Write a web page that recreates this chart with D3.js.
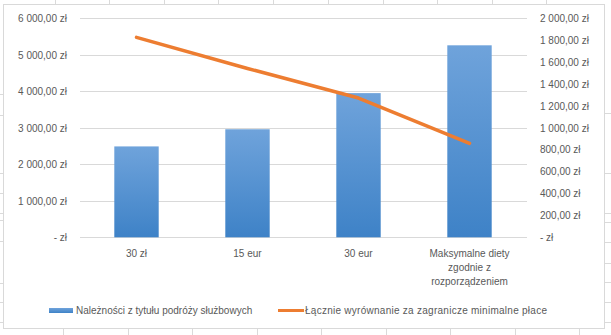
<!DOCTYPE html>
<html><head><meta charset="utf-8">
<script src="https://cdn.jsdelivr.net/npm/d3@7"></script>
<style>body{margin:0;background:#fff}svg{display:block}text{font-family:"Liberation Sans",Arial,sans-serif}</style>
</head><body>
<svg id="c" width="611" height="335"></svg>
<script>
const categories = [["30 zł"], ["15 eur"], ["30 eur"], ["Maksymalne diety", "zgodnie z", "rozporządzeniem"]];
const barValues = [2490, 2960, 3950, 5260];
const lineValues = [1826, 1542, 1272, 858];
const leftTicks = [0, 1000, 2000, 3000, 4000, 5000, 6000];
const rightTicks = [0, 200, 400, 600, 800, 1000, 1200, 1400, 1600, 1800, 2000];
const barName = "Należności z tytułu podróży służbowych";
const lineName = "Łącznie wyrównanie za zagranicze minimalne płace";

const svg = d3.select("#c");
const W = 611, H = 335;
const grid = "#d9d9d9", txt = "#595959";

// spreadsheet background lines
const bg = svg.append("g").attr("stroke", "#dadada").attr("stroke-width", 1);
[55,109,164,218,273,328,383,437,492,546].forEach(x => bg.append("line").attr("x1", x+0.5).attr("x2", x+0.5).attr("y1", 0).attr("y2", 4));
[63,128,192,257,321,386,450,515,579].forEach(x => bg.append("line").attr("x1", x+0.5).attr("x2", x+0.5).attr("y1", 329).attr("y2", 335));
[94,115,173,193,213,220,241,283,302,322].forEach(y => bg.append("line").attr("x1", 0).attr("x2", 3).attr("y1", y+0.5).attr("y2", y+0.5));
[113,173,213,222,242,263,282,302,322].forEach(y => bg.append("line").attr("x1", 605).attr("x2", W).attr("y1", y+0.5).attr("y2", y+0.5));
svg.append("rect").attr("x", 3.5).attr("y", 4.5).attr("width", 601).attr("height", 324).attr("fill", "#fff").attr("stroke", "#d9d9d9");

const x = d3.scaleBand().domain(d3.range(categories.length)).range([81, 525]).paddingInner(0.6).paddingOuter(0.3);
const yL = d3.scaleLinear().domain([0, 6000]).range([237.3, 18.3]);
const yR = d3.scaleLinear().domain([0, 2000]).range([237.3, 18.3]);

const fmt = v => v === 0 ? "-   zł" : d3.format(",.2f")(v).replace(/,/g, " ").replace(".", ",") + " zł";

const gAxisL = svg.append("g").attr("transform", "translate(67,0)")
  .call(d3.axisLeft(yL).tickValues(leftTicks).tickSize(0).tickPadding(0).tickFormat(fmt));
gAxisL.select(".domain").remove();
gAxisL.selectAll("text").attr("fill", txt).attr("font-size", "10px");
leftTicks.forEach(t => svg.append("line").attr("x1", 80).attr("x2", 527).attr("y1", Math.round(yL(t))+0.5).attr("y2", Math.round(yL(t))+0.5).attr("stroke", grid));

const gAxisR = svg.append("g").attr("transform", "translate(540,0)")
  .call(d3.axisRight(yR).tickValues(rightTicks).tickSize(0).tickPadding(0).tickFormat(fmt));
gAxisR.select(".domain").remove();
gAxisR.selectAll("text").attr("fill", txt).attr("font-size", "10px");

const defs = svg.append("defs");
const gr = defs.append("linearGradient").attr("id", "bg").attr("x1", 0).attr("x2", 0).attr("y1", 0).attr("y2", 1);
gr.append("stop").attr("offset", "0%").attr("stop-color", "#6fa3db");
gr.append("stop").attr("offset", "100%").attr("stop-color", "#3e82c7");

svg.append("g").selectAll("rect").data(barValues).join("rect")
  .attr("x", (d, i) => x(i)).attr("width", x.bandwidth())
  .attr("y", d => yL(d)).attr("height", d => yL(0) - yL(d))
  .attr("fill", "url(#bg)");

const gX = svg.append("g").attr("transform", "translate(0,237)")
  .call(d3.axisBottom(x).tickSize(0).tickFormat(() => ""));
gX.select(".domain").remove();
categories.forEach((lines, i) => {
  const t = svg.append("text").attr("text-anchor", "middle").attr("fill", txt).attr("font-size", "10px")
    .attr("x", x(i) + x.bandwidth() / 2).attr("y", 257);
  lines.forEach((l, j) => t.append("tspan").attr("x", x(i) + x.bandwidth() / 2).attr("dy", j ? 14 : 0).text(l));
});

const line = d3.line().x((d, i) => x(i) + x.bandwidth() / 2).y(d => yR(d));
svg.append("path").datum(lineValues).attr("d", line).attr("fill", "none")
  .attr("stroke", "#ed7d31").attr("stroke-width", 3.5).attr("stroke-linecap", "round").attr("stroke-linejoin", "round");

svg.append("rect").attr("x", 49).attr("y", 308).attr("width", 24).attr("height", 5).attr("fill", "url(#bg)");
svg.append("text").attr("x", 76).attr("y", 314).attr("fill", txt).attr("font-size", "10px").text(barName);
svg.append("line").attr("x1", 278).attr("x2", 304).attr("y1", 310.5).attr("y2", 310.5).attr("stroke", "#ed7d31").attr("stroke-width", 3);
svg.append("text").attr("x", 305).attr("y", 314).attr("fill", txt).attr("font-size", "10px")
  .attr("textLength", 242).attr("lengthAdjust", "spacing").text(lineName);
</script>
</body></html>
